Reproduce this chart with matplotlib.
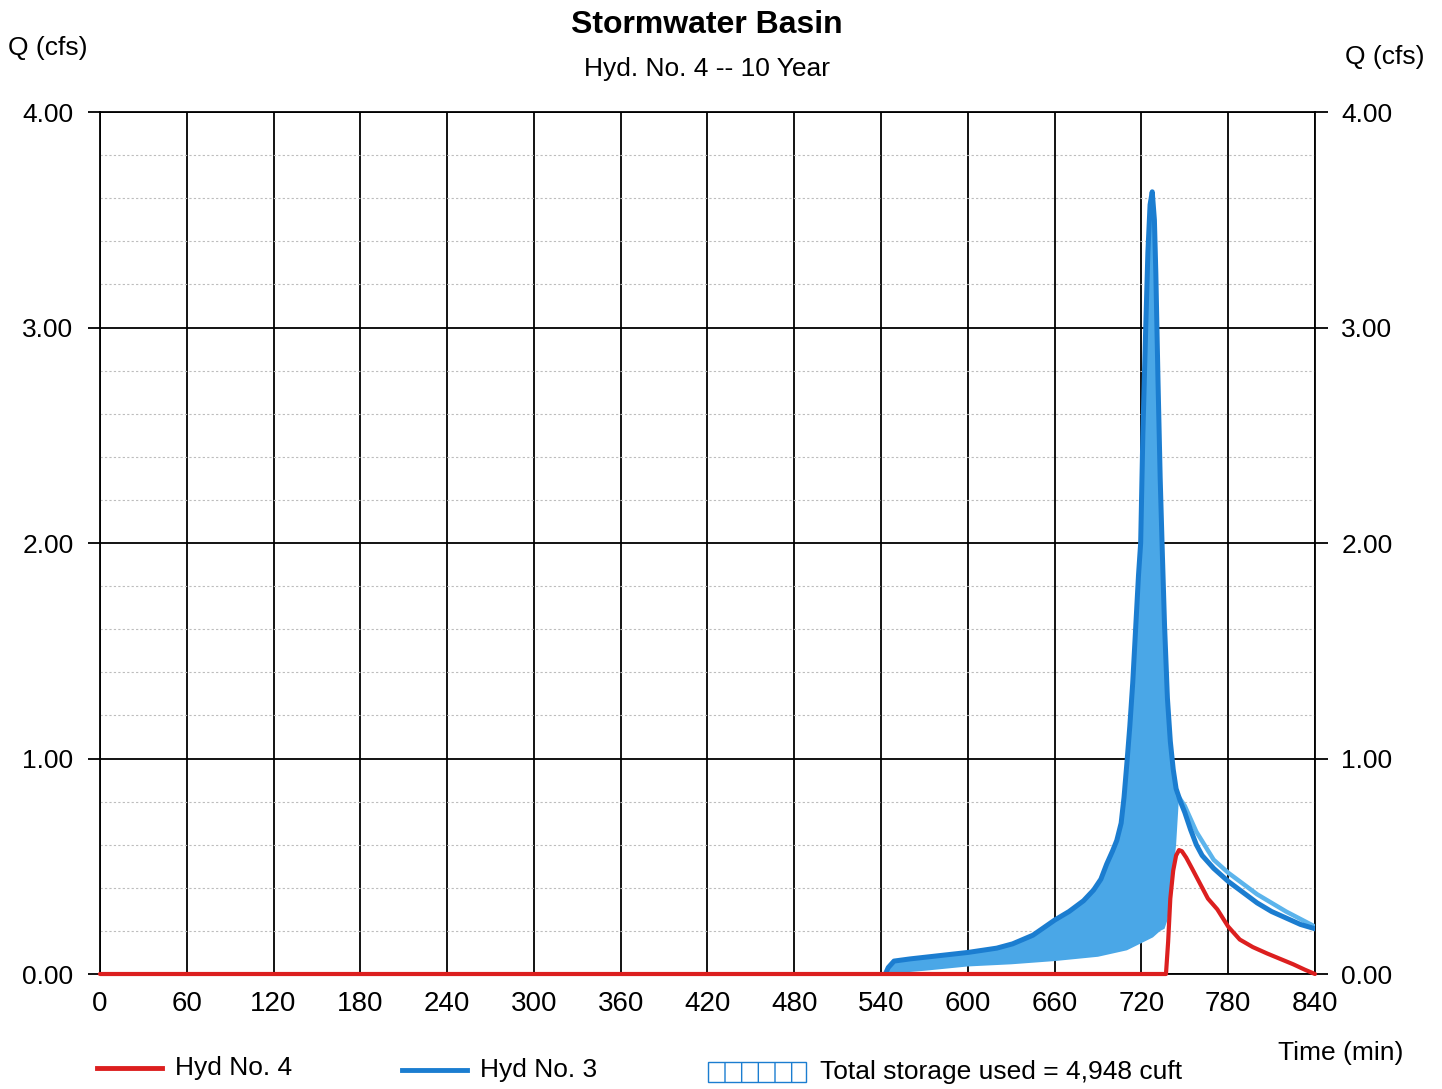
import matplotlib.pyplot as plt
from matplotlib.lines import Line2D
from matplotlib.patches import Rectangle
from matplotlib.ticker import MultipleLocator

plt.rcParams['font.family'] = ['Liberation Sans', 'DejaVu Sans']
plt.rcParams['hatch.linewidth'] = 1.0

# Hyd No. 3 - inflow hydrograph (min, cfs)
inflow_t = [543, 545, 549, 560, 580, 600, 620, 631, 645, 660, 670, 680, 687, 692,
            696, 700, 703, 706, 708, 710, 712, 714, 716, 718, 719.5, 721, 723, 724.5,
            726, 727.5, 729, 730, 731.5, 733, 734.5, 736, 738, 740, 742, 744, 747,
            750, 754, 758, 762, 770, 780, 790, 800, 810, 820, 830, 840]
inflow_q = [0.00, 0.03, 0.06, 0.07, 0.085, 0.10, 0.12, 0.14, 0.18, 0.25, 0.29, 0.34,
            0.39, 0.44, 0.51, 0.57, 0.62, 0.70, 0.82, 0.98, 1.15, 1.35, 1.60, 1.85,
            2.00, 2.50, 3.00, 3.35, 3.57, 3.63, 3.50, 3.25, 2.75, 2.30, 1.95, 1.62,
            1.28, 1.08, 0.95, 0.86, 0.80, 0.75, 0.67, 0.60, 0.55, 0.49, 0.43, 0.38,
            0.33, 0.29, 0.26, 0.23, 0.21]

# light blue edge of the storage hatch on the falling limb
edge_t = [745, 750, 758, 770, 780, 790, 800, 820, 840]
edge_q = [0.83, 0.78, 0.66, 0.53, 0.47, 0.42, 0.37, 0.29, 0.22]

# Hyd No. 4 - outflow hydrograph
outflow_t = [0, 737, 738.5, 740, 742, 744, 746, 748, 751, 755, 760.5, 766, 772.5,
             780, 788, 797, 807, 825, 833, 840]
outflow_q = [0.0, 0.0, 0.15, 0.35, 0.48, 0.55, 0.575, 0.57, 0.54, 0.49, 0.42, 0.35,
             0.30, 0.22, 0.16, 0.125, 0.095, 0.045, 0.02, 0.0]

# storage area: top follows inflow, bottom edge below
store_top_t = inflow_t[:45]
store_top_q = inflow_q[:45]
store_bot_t = [746, 744, 741, 738, 736, 733, 728, 722, 710, 690, 660, 630, 600, 570, 543]
store_bot_q = [0.82, 0.60, 0.40, 0.25, 0.21, 0.20, 0.17, 0.15, 0.11, 0.08, 0.06,
               0.045, 0.035, 0.015, 0.0]

x_ticks = list(range(0, 841, 60))
y_ticks = [0.0, 1.0, 2.0, 3.0, 4.0]

RED = '#dc1f1f'
BLUE = '#1b7dd0'
FILL = '#4aa7e7'
LIGHT = '#5cb4ec'

fig = plt.figure(figsize=(14.42, 10.89), dpi=100)
ax = fig.add_axes([0.0693, 0.1056, 0.8426, 0.7915])

# storage fill
poly_t = store_top_t + store_bot_t
poly_q = store_top_q + store_bot_q
ax.fill(poly_t, poly_q, color=FILL, lw=0, zorder=3)

ax.plot(edge_t, edge_q, color=LIGHT, lw=3.2, zorder=4, solid_capstyle='round',
        solid_joinstyle='round')
ax.plot(inflow_t, inflow_q, color=BLUE, lw=3.6, zorder=5, solid_capstyle='round',
        solid_joinstyle='round')
ax.plot(outflow_t, outflow_q, color=RED, lw=3.0, zorder=6, solid_capstyle='round',
        solid_joinstyle='round', clip_on=False)

ax.set_xlim(0, 840)
ax.set_ylim(0, 4)
ax.set_xticks(x_ticks)
ax.set_xticklabels([str(v) for v in x_ticks])
ax.set_yticks(y_ticks)
ax.set_yticklabels(['%.2f' % v for v in y_ticks])
ax.yaxis.set_minor_locator(MultipleLocator(0.2))

ax.grid(True, which='major', color='black', lw=1.3, zorder=1)
ax.grid(True, which='minor', axis='y', color='#bdbdbd', lw=0.8,
        linestyle=(0, (2, 2)), zorder=1)
ax.set_axisbelow(True)

for s in ax.spines.values():
    s.set_linewidth(1.3)
    s.set_color('black')

ax.tick_params(axis='x', length=0, pad=12, labelsize=20)
ax.tick_params(axis='y', which='major', direction='out', length=9, width=1.3,
               pad=10, labelsize=19, left=True, right=True,
               labelleft=True, labelright=True)
ax.tick_params(axis='y', which='minor', length=0)

# titles and axis captions
fig.text(0.4903, 0.9775, 'Stormwater Basin', ha='center', va='center',
         fontsize=23, fontweight='bold')
fig.text(0.4903, 0.9370, 'Hyd. No. 4 -- 10 Year', ha='center', va='center',
         fontsize=19)
fig.text(0.0055, 0.956, 'Q (cfs)', ha='left', va='center', fontsize=19)
fig.text(0.9327, 0.9477, 'Q (cfs)', ha='left', va='center', fontsize=19)
fig.text(0.8863, 0.033, 'Time (min)', ha='left', va='center', fontsize=19)

# legend drawn along the bottom
fig.add_artist(Line2D([0.0673, 0.1123], [0.0193, 0.0193], color=RED, lw=3.5,
                      transform=fig.transFigure))
fig.text(0.1214, 0.0193, 'Hyd No. 4', ha='left', va='center', fontsize=19)
fig.add_artist(Line2D([0.2788, 0.3239], [0.0175, 0.0175], color=BLUE, lw=3.5,
                      transform=fig.transFigure))
fig.text(0.3329, 0.0175, 'Hyd No. 3', ha='left', va='center', fontsize=19)
fig.add_artist(Rectangle((0.491, 0.0064), 0.068, 0.0184, transform=fig.transFigure,
                         facecolor='white', edgecolor=BLUE, lw=1.0, hatch='|'))
fig.text(0.5687, 0.0156, 'Total storage used = 4,948 cuft', ha='left', va='center',
         fontsize=19)

fig.savefig('out.png', dpi=100)
